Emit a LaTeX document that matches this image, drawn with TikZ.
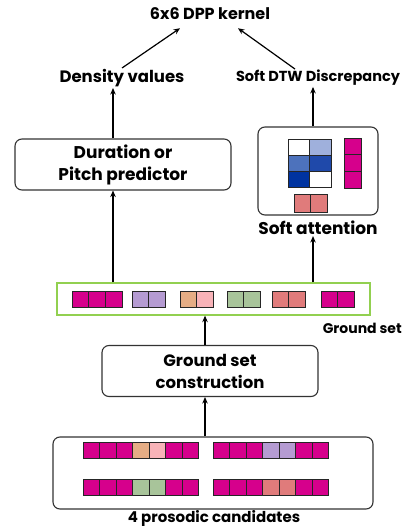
\documentclass[tikz,border=0pt]{standalone}
\usepackage{fontspec}
\setmainfont{Poppins}
\usetikzlibrary{arrows.meta,calc,positioning}
% cell colours
\definecolor{mgnt}{HTML}{D6008C}
\definecolor{lilac}{HTML}{B59BD2}
\definecolor{peach}{HTML}{E5AD85}
\definecolor{rose}{HTML}{F8B3B8}
\definecolor{sage}{HTML}{A8C49A}
\definecolor{coral}{HTML}{E07B7B}
\definecolor{attA}{HTML}{9FB0DC}
\definecolor{attB}{HTML}{4D72BC}
\definecolor{attC}{HTML}{1F49AA}
\definecolor{attD}{HTML}{0033A0}
\definecolor{gsgreen}{HTML}{92D050}

\begin{document}
\begin{tikzpicture}[x=1pt,y=-1pt,
  block/.style={draw=black!80,line width=1.1pt,rounded corners=7pt,align=center,
                font=\fontsize{17}{22}\selectfont\bfseries,inner sep=0pt},
  bigtext/.style={font=\fontsize{16.5}{20}\selectfont\bfseries,inner sep=1pt},
  smalltext/.style={font=\fontsize{14}{17}\selectfont\bfseries,inner sep=1pt},
  cell/.style={draw=black!85,line width=0.9pt},
  flow/.style={-{Stealth[length=6.5pt,width=5.5pt]},line width=1.2pt}]
  \useasboundingbox (0,0) rectangle (409,529);

  % outputs
  \node[bigtext,font=\fontsize{16}{20}\selectfont\bfseries] (kernel) at (210,14) {6x6 DPP kernel};
  \node[bigtext] (dens) at (122,78) {Density values};
  \node[smalltext,font=\fontsize{14.5}{17}\selectfont\bfseries] (sdtw) at (318,78)
    {Soft DTW Discrepancy};

  % the two branches
  \node[block,minimum width=216pt,minimum height=51pt] (pred) at (123,164.5)
    {Duration or\\Pitch predictor};
  \node[block,minimum width=120pt,minimum height=88pt] (attn) at (318,171) {};
  \node[bigtext,font=\fontsize{17}{20}\selectfont\bfseries] (attnlab) at (318,228)
    {Soft attention};

  % ground set
  \node[draw=gsgreen,line width=1.3pt,minimum width=313pt,minimum height=32pt,
        inner sep=0pt] (gs) at (213.5,299) {};
  \node[smalltext,anchor=east] (gslab) at (403,328) {Ground set};
  \node[block,font=\fontsize{16.5}{22}\selectfont\bfseries,minimum width=216pt,
        minimum height=51pt] (cons) at (210,371) {Ground set\\construction};

  % candidates
  \node[block,minimum width=320pt,minimum height=72pt] (cand) at (213,473) {};
  \node[bigtext,font=\fontsize{15}{18}\selectfont\bfseries] (candlab) at (214,518)
    {4 prosodic candidates};

  % candidate rows
  \foreach \cx/\cy/\cols in {83/442/{mgnt,mgnt,mgnt,peach,rose,mgnt,mgnt},
      213/442/{mgnt,mgnt,mgnt,lilac,lilac,mgnt,mgnt},
      83/479/{mgnt,mgnt,mgnt,sage,sage,mgnt,mgnt},
      213/479/{mgnt,mgnt,mgnt,coral,coral,mgnt,mgnt}}
    \foreach \c [count=\k from 0] in \cols
      \draw[cell,fill=\c] (\cx+\k*16.5,\cy) rectangle ++(16.5,16);

  % ground set elements
  \foreach \cx/\cols in {72/{mgnt,mgnt,mgnt},132/{lilac,lilac},180/{peach,rose},
      227/{sage,sage},272/{coral,coral},321/{mgnt,mgnt}}
    \foreach \c [count=\k from 0] in \cols
      \draw[cell,fill=\c] (\cx+\k*16.8,291) rectangle ++(16.8,16);

  % attention map, pitch column and segment
  \foreach \c [count=\k from 0] in {white,attA,attB,attC,attD,white}
    \draw[cell,fill=\c] ({288+mod(\k,2)*21.5},{139+int(\k/2)*16}) rectangle ++(21.5,16);
  \foreach \k in {0,1,2}
    \draw[cell,fill=mgnt] (344,138+\k*16.7) rectangle ++(17,16.7);
  \foreach \k in {0,1}
    \draw[cell,fill=coral] (294+\k*16.5,194) rectangle ++(16.5,18);

  % arrows
  \draw[flow] ([xshift=-5pt]cons.south |- cand.north) -- ([xshift=-5pt]cons.south);
  \draw[flow] ([xshift=-5pt]cons.north) -- ([xshift=-5pt]cons.north |- gs.south);
  \draw[flow] ([xshift=-10pt]pred.south |- gs.north) -- ([xshift=-10pt]pred.south);
  \draw[flow] ([xshift=-5pt]attnlab.south |- gs.north) -- ([xshift=-5pt]attnlab.south);
  \draw[flow] ([xshift=-10pt]pred.north) -- ([xshift=-10pt]pred.north |- dens.south);
  \draw[flow] ([xshift=-5pt]attn.north) -- ([xshift=-5pt]attn.north |- sdtw.south);
  \draw[flow] (dens.north) -- ([xshift=-30pt,yshift=-7pt]kernel.south);
  \draw[flow] ([xshift=-23pt]sdtw.north) -- ([xshift=28pt,yshift=-7pt]kernel.south);
\end{tikzpicture}
\end{document}
